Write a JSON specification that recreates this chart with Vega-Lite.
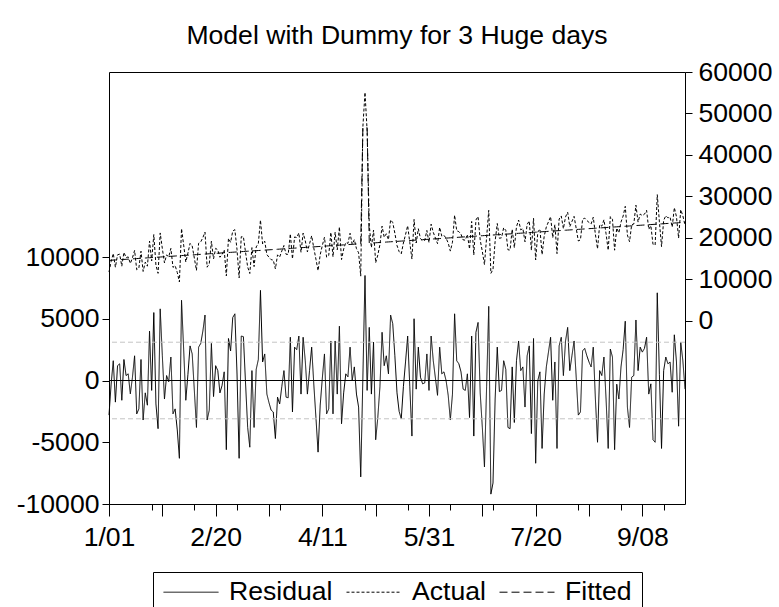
{
"$schema":"https://vega.github.io/schema/vega-lite/v6.json",
"width":576,"height":432,
"autosize":{"type":"none"},
"padding":{"left":109,"top":72,"right":94,"bottom":103},
"background":"white",
"title":{"text":"Model with Dummy for 3 Huge days","fontSize":26.6,"font":"Liberation Sans","fontWeight":"normal","color":"black","anchor":"middle","offset":9},
"config":{"view":{"stroke":"black","strokeWidth":1},"axis":{"labelFont":"Liberation Sans","labelFontSize":26.6,"labelColor":"black","tickColor":"black","tickWidth":1,"domain":false,"grid":false,"title":null}},
"datasets":{
"se":[{"v":3100},{"v":-3100}],
"series":[
{"t":0,"residual":-2800,"actual":11800,"fitted":14600},
{"t":1,"residual":-300,"actual":14334,"fitted":14634},
{"t":2,"residual":1600,"actual":16268,"fitted":14668},
{"t":3,"residual":-1750,"actual":12952,"fitted":14702},
{"t":4,"residual":1200,"actual":15936,"fitted":14736},
{"t":5,"residual":1350,"actual":16120,"fitted":14770},
{"t":6,"residual":-1600,"actual":13204,"fitted":14804},
{"t":7,"residual":1700,"actual":16538,"fitted":14838},
{"t":8,"residual":400,"actual":15272,"fitted":14872},
{"t":9,"residual":540,"actual":15446,"fitted":14906},
{"t":10,"residual":-1080,"actual":13860,"fitted":14940},
{"t":11,"residual":270,"actual":15244,"fitted":14974},
{"t":12,"residual":2000,"actual":17008,"fitted":15008},
{"t":13,"residual":-2700,"actual":12342,"fitted":15042},
{"t":14,"residual":-2300,"actual":12776,"fitted":15076},
{"t":15,"residual":1700,"actual":16810,"fitted":15110},
{"t":16,"residual":-3200,"actual":11944,"fitted":15144},
{"t":17,"residual":-1000,"actual":14178,"fitted":15178},
{"t":18,"residual":-2000,"actual":13212,"fitted":15212},
{"t":19,"residual":4000,"actual":19246,"fitted":15246},
{"t":20,"residual":-800,"actual":14480,"fitted":15280},
{"t":21,"residual":5500,"actual":20814,"fitted":15314},
{"t":22,"residual":-1900,"actual":13448,"fitted":15348},
{"t":23,"residual":-3900,"actual":11482,"fitted":15382},
{"t":24,"residual":5800,"actual":21216,"fitted":15416},
{"t":25,"residual":2000,"actual":17450,"fitted":15450},
{"t":26,"residual":-1500,"actual":13984,"fitted":15484},
{"t":27,"residual":400,"actual":15918,"fitted":15518},
{"t":28,"residual":-100,"actual":15452,"fitted":15552},
{"t":29,"residual":1900,"actual":17486,"fitted":15586},
{"t":30,"residual":-2700,"actual":12920,"fitted":15620},
{"t":31,"residual":-2300,"actual":13354,"fitted":15654},
{"t":32,"residual":-4000,"actual":11688,"fitted":15688},
{"t":33,"residual":-6300,"actual":9422,"fitted":15722},
{"t":34,"residual":6500,"actual":22256,"fitted":15756},
{"t":35,"residual":2500,"actual":18290,"fitted":15790},
{"t":36,"residual":-1600,"actual":14224,"fitted":15824},
{"t":37,"residual":500,"actual":16358,"fitted":15858},
{"t":38,"residual":2800,"actual":18692,"fitted":15892},
{"t":39,"residual":2150,"actual":18076,"fitted":15926},
{"t":40,"residual":-800,"actual":15160,"fitted":15960},
{"t":41,"residual":-3800,"actual":12194,"fitted":15994},
{"t":42,"residual":2700,"actual":18728,"fitted":16028},
{"t":43,"residual":3000,"actual":19062,"fitted":16062},
{"t":44,"residual":4000,"actual":20096,"fitted":16096},
{"t":45,"residual":5300,"actual":21430,"fitted":16130},
{"t":46,"residual":-3200,"actual":12964,"fitted":16164},
{"t":47,"residual":-2400,"actual":13798,"fitted":16198},
{"t":48,"residual":3000,"actual":19232,"fitted":16232},
{"t":49,"residual":-1300,"actual":14966,"fitted":16266},
{"t":50,"residual":1200,"actual":17500,"fitted":16300},
{"t":51,"residual":800,"actual":17134,"fitted":16334},
{"t":52,"residual":-1000,"actual":15368,"fitted":16368},
{"t":53,"residual":-400,"actual":16002,"fitted":16402},
{"t":54,"residual":700,"actual":17136,"fitted":16436},
{"t":55,"residual":-5600,"actual":10870,"fitted":16470},
{"t":56,"residual":3400,"actual":19904,"fitted":16504},
{"t":57,"residual":2400,"actual":18938,"fitted":16538},
{"t":58,"residual":5100,"actual":21672,"fitted":16572},
{"t":59,"residual":5400,"actual":22006,"fitted":16606},
{"t":60,"residual":600,"actual":17240,"fitted":16640},
{"t":61,"residual":-6300,"actual":10374,"fitted":16674},
{"t":62,"residual":3600,"actual":20308,"fitted":16708},
{"t":63,"residual":3550,"actual":20292,"fitted":16742},
{"t":64,"residual":-200,"actual":16576,"fitted":16776},
{"t":65,"residual":-3800,"actual":13010,"fitted":16810},
{"t":66,"residual":-5400,"actual":11444,"fitted":16844},
{"t":67,"residual":800,"actual":17678,"fitted":16878},
{"t":68,"residual":-3800,"actual":13112,"fitted":16912},
{"t":69,"residual":900,"actual":17846,"fitted":16946},
{"t":70,"residual":1700,"actual":18680,"fitted":16980},
{"t":71,"residual":7300,"actual":24314,"fitted":17014},
{"t":72,"residual":1500,"actual":18548,"fitted":17048},
{"t":73,"residual":2150,"actual":19232,"fitted":17082},
{"t":74,"residual":-1100,"actual":16016,"fitted":17116},
{"t":75,"residual":-1800,"actual":15350,"fitted":17150},
{"t":76,"residual":-2400,"actual":14784,"fitted":17184},
{"t":77,"residual":-2550,"actual":14668,"fitted":17218},
{"t":78,"residual":-4700,"actual":12552,"fitted":17252},
{"t":79,"residual":-1350,"actual":15936,"fitted":17286},
{"t":80,"residual":-1900,"actual":15420,"fitted":17320},
{"t":81,"residual":-500,"actual":16854,"fitted":17354},
{"t":82,"residual":800,"actual":18188,"fitted":17388},
{"t":83,"residual":-1350,"actual":16072,"fitted":17422},
{"t":84,"residual":-1400,"actual":16056,"fitted":17456},
{"t":85,"residual":3500,"actual":20990,"fitted":17490},
{"t":86,"residual":-2550,"actual":14974,"fitted":17524},
{"t":87,"residual":2700,"actual":20258,"fitted":17558},
{"t":88,"residual":2500,"actual":20092,"fitted":17592},
{"t":89,"residual":3600,"actual":21226,"fitted":17626},
{"t":90,"residual":-1100,"actual":16560,"fitted":17660},
{"t":91,"residual":3500,"actual":21194,"fitted":17694},
{"t":92,"residual":1600,"actual":19328,"fitted":17728},
{"t":93,"residual":-1100,"actual":16662,"fitted":17762},
{"t":94,"residual":800,"actual":18596,"fitted":17796},
{"t":95,"residual":2700,"actual":20530,"fitted":17830},
{"t":96,"residual":-300,"actual":17564,"fitted":17864},
{"t":97,"residual":-3000,"actual":14898,"fitted":17898},
{"t":98,"residual":-5800,"actual":12132,"fitted":17932},
{"t":99,"residual":-2000,"actual":15966,"fitted":17966},
{"t":100,"residual":200,"actual":18200,"fitted":18000},
{"t":101,"residual":2150,"actual":20184,"fitted":18034},
{"t":102,"residual":-2700,"actual":15368,"fitted":18068},
{"t":103,"residual":-2300,"actual":15802,"fitted":18102},
{"t":104,"residual":3200,"actual":21336,"fitted":18136},
{"t":105,"residual":-2700,"actual":15470,"fitted":18170},
{"t":106,"residual":3200,"actual":21404,"fitted":18204},
{"t":107,"residual":-1100,"actual":17138,"fitted":18238},
{"t":108,"residual":4400,"actual":22672,"fitted":18272},
{"t":109,"residual":-3500,"actual":14806,"fitted":18306},
{"t":110,"residual":-1000,"actual":17340,"fitted":18340},
{"t":111,"residual":540,"actual":18914,"fitted":18374},
{"t":112,"residual":300,"actual":18708,"fitted":18408},
{"t":113,"residual":2700,"actual":21142,"fitted":18442},
{"t":114,"residual":0,"actual":18476,"fitted":18476},
{"t":115,"residual":1100,"actual":19610,"fitted":18510},
{"t":116,"residual":-1100,"actual":17444,"fitted":18544},
{"t":117,"residual":-2150,"actual":16428,"fitted":18578},
{"t":118,"residual":-7800,"actual":10812,"fitted":18612},
{"t":119,"residual":200,"actual":46746,"fitted":46546},
{"t":120,"residual":8500,"actual":55080,"fitted":46580},
{"t":121,"residual":-800,"actual":45814,"fitted":46614},
{"t":122,"residual":4300,"actual":23048,"fitted":18748},
{"t":123,"residual":-1100,"actual":17682,"fitted":18782},
{"t":124,"residual":3100,"actual":21916,"fitted":18816},
{"t":125,"residual":-4800,"actual":14050,"fitted":18850},
{"t":126,"residual":-3000,"actual":15884,"fitted":18884},
{"t":127,"residual":-500,"actual":18418,"fitted":18918},
{"t":128,"residual":3900,"actual":22852,"fitted":18952},
{"t":129,"residual":1200,"actual":20186,"fitted":18986},
{"t":130,"residual":2000,"actual":21020,"fitted":19020},
{"t":131,"residual":540,"actual":19594,"fitted":19054},
{"t":132,"residual":5300,"actual":24388,"fitted":19088},
{"t":133,"residual":4600,"actual":23722,"fitted":19122},
{"t":134,"residual":2000,"actual":21156,"fitted":19156},
{"t":135,"residual":-1000,"actual":18190,"fitted":19190},
{"t":136,"residual":-2500,"actual":16724,"fitted":19224},
{"t":137,"residual":-3100,"actual":16158,"fitted":19258},
{"t":138,"residual":-500,"actual":18792,"fitted":19292},
{"t":139,"residual":1500,"actual":20826,"fitted":19326},
{"t":140,"residual":3600,"actual":22960,"fitted":19360},
{"t":141,"residual":-500,"actual":18894,"fitted":19394},
{"t":142,"residual":-4500,"actual":14928,"fitted":19428},
{"t":143,"residual":5000,"actual":24462,"fitted":19462},
{"t":144,"residual":-700,"actual":18796,"fitted":19496},
{"t":145,"residual":2700,"actual":22230,"fitted":19530},
{"t":146,"residual":270,"actual":19834,"fitted":19564},
{"t":147,"residual":-270,"actual":19328,"fitted":19598},
{"t":148,"residual":-200,"actual":19432,"fitted":19632},
{"t":149,"residual":2150,"actual":21816,"fitted":19666},
{"t":150,"residual":-800,"actual":18900,"fitted":19700},
{"t":151,"residual":3600,"actual":23334,"fitted":19734},
{"t":152,"residual":1600,"actual":21368,"fitted":19768},
{"t":153,"residual":200,"actual":20002,"fitted":19802},
{"t":154,"residual":-1200,"actual":18636,"fitted":19836},
{"t":155,"residual":2700,"actual":22570,"fitted":19870},
{"t":156,"residual":540,"actual":20444,"fitted":19904},
{"t":157,"residual":700,"actual":20638,"fitted":19938},
{"t":158,"residual":0,"actual":19972,"fitted":19972},
{"t":159,"residual":-1200,"actual":18806,"fitted":20006},
{"t":160,"residual":-3200,"actual":16840,"fitted":20040},
{"t":161,"residual":-1100,"actual":18974,"fitted":20074},
{"t":162,"residual":5400,"actual":25508,"fitted":20108},
{"t":163,"residual":1600,"actual":21742,"fitted":20142},
{"t":164,"residual":1350,"actual":21526,"fitted":20176},
{"t":165,"residual":700,"actual":20910,"fitted":20210},
{"t":166,"residual":-700,"actual":19544,"fitted":20244},
{"t":167,"residual":-800,"actual":19478,"fitted":20278},
{"t":168,"residual":540,"actual":20852,"fitted":20312},
{"t":169,"residual":-3000,"actual":17346,"fitted":20346},
{"t":170,"residual":3600,"actual":23980,"fitted":20380},
{"t":171,"residual":-4500,"actual":15914,"fitted":20414},
{"t":172,"residual":3900,"actual":24348,"fitted":20448},
{"t":173,"residual":4700,"actual":25182,"fitted":20482},
{"t":174,"residual":-1000,"actual":19516,"fitted":20516},
{"t":175,"residual":-3800,"actual":16750,"fitted":20550},
{"t":176,"residual":-7000,"actual":13584,"fitted":20584},
{"t":177,"residual":-500,"actual":20118,"fitted":20618},
{"t":178,"residual":6000,"actual":26652,"fitted":20652},
{"t":179,"residual":-9200,"actual":11486,"fitted":20686},
{"t":180,"residual":-8300,"actual":12420,"fitted":20720},
{"t":181,"residual":-1500,"actual":19254,"fitted":20754},
{"t":182,"residual":2700,"actual":23488,"fitted":20788},
{"t":183,"residual":-900,"actual":19922,"fitted":20822},
{"t":184,"residual":-800,"actual":20056,"fitted":20856},
{"t":185,"residual":1600,"actual":22490,"fitted":20890},
{"t":186,"residual":900,"actual":21824,"fitted":20924},
{"t":187,"residual":-3800,"actual":17158,"fitted":20958},
{"t":188,"residual":-3900,"actual":17092,"fitted":20992},
{"t":189,"residual":1100,"actual":22126,"fitted":21026},
{"t":190,"residual":-3400,"actual":17660,"fitted":21060},
{"t":191,"residual":1600,"actual":22694,"fitted":21094},
{"t":192,"residual":3200,"actual":24328,"fitted":21128},
{"t":193,"residual":800,"actual":21962,"fitted":21162},
{"t":194,"residual":1100,"actual":22296,"fitted":21196},
{"t":195,"residual":-2150,"actual":19080,"fitted":21230},
{"t":196,"residual":2000,"actual":23264,"fitted":21264},
{"t":197,"residual":2800,"actual":24098,"fitted":21298},
{"t":198,"residual":-4300,"actual":17032,"fitted":21332},
{"t":199,"residual":3400,"actual":24766,"fitted":21366},
{"t":200,"residual":-6700,"actual":14700,"fitted":21400},
{"t":201,"residual":0,"actual":21434,"fitted":21434},
{"t":202,"residual":700,"actual":22168,"fitted":21468},
{"t":203,"residual":-5500,"actual":16002,"fitted":21502},
{"t":204,"residual":-1100,"actual":20436,"fitted":21536},
{"t":205,"residual":1100,"actual":22670,"fitted":21570},
{"t":206,"residual":2300,"actual":23904,"fitted":21604},
{"t":207,"residual":3500,"actual":25138,"fitted":21638},
{"t":208,"residual":-1600,"actual":20072,"fitted":21672},
{"t":209,"residual":1500,"actual":23206,"fitted":21706},
{"t":210,"residual":-5500,"actual":16240,"fitted":21740},
{"t":211,"residual":2800,"actual":24574,"fitted":21774},
{"t":212,"residual":3500,"actual":25308,"fitted":21808},
{"t":213,"residual":400,"actual":22242,"fitted":21842},
{"t":214,"residual":3200,"actual":25076,"fitted":21876},
{"t":215,"residual":4300,"actual":26210,"fitted":21910},
{"t":216,"residual":800,"actual":22744,"fitted":21944},
{"t":217,"residual":2000,"actual":23978,"fitted":21978},
{"t":218,"residual":3200,"actual":25212,"fitted":22012},
{"t":219,"residual":270,"actual":22316,"fitted":22046},
{"t":220,"residual":-2800,"actual":19280,"fitted":22080},
{"t":221,"residual":-2550,"actual":19564,"fitted":22114},
{"t":222,"residual":2400,"actual":24548,"fitted":22148},
{"t":223,"residual":2600,"actual":24782,"fitted":22182},
{"t":224,"residual":2000,"actual":24216,"fitted":22216},
{"t":225,"residual":1500,"actual":23750,"fitted":22250},
{"t":226,"residual":1100,"actual":23384,"fitted":22284},
{"t":227,"residual":2700,"actual":25018,"fitted":22318},
{"t":228,"residual":-1500,"actual":20852,"fitted":22352},
{"t":229,"residual":-5000,"actual":17386,"fitted":22386},
{"t":230,"residual":800,"actual":23220,"fitted":22420},
{"t":231,"residual":400,"actual":22854,"fitted":22454},
{"t":232,"residual":1900,"actual":24388,"fitted":22488},
{"t":233,"residual":-1500,"actual":21022,"fitted":22522},
{"t":234,"residual":-5500,"actual":17056,"fitted":22556},
{"t":235,"residual":2550,"actual":25140,"fitted":22590},
{"t":236,"residual":1900,"actual":24524,"fitted":22624},
{"t":237,"residual":-5600,"actual":17058,"fitted":22658},
{"t":238,"residual":-300,"actual":22392,"fitted":22692},
{"t":239,"residual":-1500,"actual":21226,"fitted":22726},
{"t":240,"residual":1100,"actual":23860,"fitted":22760},
{"t":241,"residual":2500,"actual":25294,"fitted":22794},
{"t":242,"residual":4800,"actual":27628,"fitted":22828},
{"t":243,"residual":-2150,"actual":20712,"fitted":22862},
{"t":244,"residual":-3800,"actual":19096,"fitted":22896},
{"t":245,"residual":270,"actual":23200,"fitted":22930},
{"t":246,"residual":400,"actual":23364,"fitted":22964},
{"t":247,"residual":4900,"actual":27898,"fitted":22998},
{"t":248,"residual":800,"actual":23832,"fitted":23032},
{"t":249,"residual":2700,"actual":25766,"fitted":23066},
{"t":250,"residual":2300,"actual":25400,"fitted":23100},
{"t":251,"residual":2600,"actual":25734,"fitted":23134},
{"t":252,"residual":3500,"actual":26668,"fitted":23168},
{"t":253,"residual":-1100,"actual":22102,"fitted":23202},
{"t":254,"residual":-270,"actual":22966,"fitted":23236},
{"t":255,"residual":-4800,"actual":18470,"fitted":23270},
{"t":256,"residual":-5000,"actual":18304,"fitted":23304},
{"t":257,"residual":7100,"actual":30438,"fitted":23338},
{"t":258,"residual":500,"actual":23872,"fitted":23372},
{"t":259,"residual":-5500,"actual":17906,"fitted":23406},
{"t":260,"residual":800,"actual":24240,"fitted":23440},
{"t":261,"residual":1900,"actual":25374,"fitted":23474},
{"t":262,"residual":1350,"actual":24858,"fitted":23508},
{"t":263,"residual":1500,"actual":25042,"fitted":23542},
{"t":264,"residual":-950,"actual":22626,"fitted":23576},
{"t":265,"residual":3700,"actual":27310,"fitted":23610},
{"t":266,"residual":1500,"actual":25144,"fitted":23644},
{"t":267,"residual":-3700,"actual":19978,"fitted":23678},
{"t":268,"residual":3100,"actual":26812,"fitted":23712},
{"t":269,"residual":1600,"actual":25346,"fitted":23746},
{"t":270,"residual":-700,"actual":23080,"fitted":23780}
]},
"layer":[
{"layer":[
 {"data":{"name":"series"},"mark":{"type":"line","color":"black","strokeWidth":1},
  "encoding":{
   "x":{"field":"t","type":"quantitative","scale":{"domain":[0,270],"nice":false,"zero":false},
        "axis":{"orient":"bottom","values":[0,25,50,75,100,125,150,175,200,225,250],"labelExpr":"datum.value % 50 == 0 ? ['1/01','2/20','4/11','5/31','7/20','9/08'][datum.value/50] : ''","tickSize":12,"labelPadding":8,"labelFlush":false,"labelOverlap":false}},
   "y":{"field":"residual","type":"quantitative","scale":{"domain":[-10000,24980],"nice":false,"zero":false},
        "axis":{"orient":"left","values":[-10000,-5000,0,5000,10000],"format":"d","labelExpr":"replace(datum.label, '\u2212', '-')","tickSize":7,"labelPadding":3}},
   "strokeDash":{"datum":"Residual","type":"nominal","scale":{"domain":["Residual","Actual","Fitted"],"range":[[1,0],[3,2],[8,4]]},
     "legend":{"orient":"none","legendX":44,"legendY":500,"direction":"horizontal","title":null,"strokeColor":"black","fillColor":"white","padding":10,"symbolType":"stroke","symbolSize":3025,"clipHeight":20,"symbolStrokeWidth":1,"symbolStrokeColor":"black","labelFontSize":26.6,"labelFont":"Liberation Sans","labelColor":"black","labelOffset":10,"columnPadding":13}}}},
 {"data":{"name":"se"},"mark":{"type":"rule","color":"#c4c4c4","strokeWidth":1,"strokeDash":[5,3]},
  "encoding":{"y":{"field":"v","type":"quantitative"}}},
 {"data":{"name":"series"},"mark":{"type":"rule","color":"black","strokeWidth":1},
  "encoding":{"y":{"datum":0,"type":"quantitative"}}}
]},
{"layer":[
 {"data":{"name":"series"},"mark":{"type":"line","color":"black","strokeWidth":1},
  "encoding":{
   "x":{"field":"t","type":"quantitative","axis":{"orient":"bottom","values":[0,5,10,15,20,25,30,35,40,45,50,55,60,65,70,75,80,85,90,95,100,105,110,115,120,125,130,135,140,145,150,155,160,165,170,175,180,185,190,195,200,205,210,215,220,225,230,235,240,245,250,255,260,265,270],"labels":false,"tickSize":6}},
   "y":{"field":"actual","type":"quantitative","scale":{"domain":[-44100,60000],"nice":false,"zero":false},
        "axis":{"orient":"right","values":[0,10000,20000,30000,40000,50000,60000],"format":"d","tickSize":7,"labelPadding":6}},
   "strokeDash":{"datum":"Actual","type":"nominal"}}},
 {"data":{"name":"series"},"mark":{"type":"line","color":"black","strokeWidth":1},
  "encoding":{
   "x":{"field":"t","type":"quantitative"},
   "y":{"field":"fitted","type":"quantitative"},
   "strokeDash":{"datum":"Fitted","type":"nominal"}}}
]}
],
"resolve":{"scale":{"y":"independent"},"axis":{"x":"independent","y":"independent"}}
}
